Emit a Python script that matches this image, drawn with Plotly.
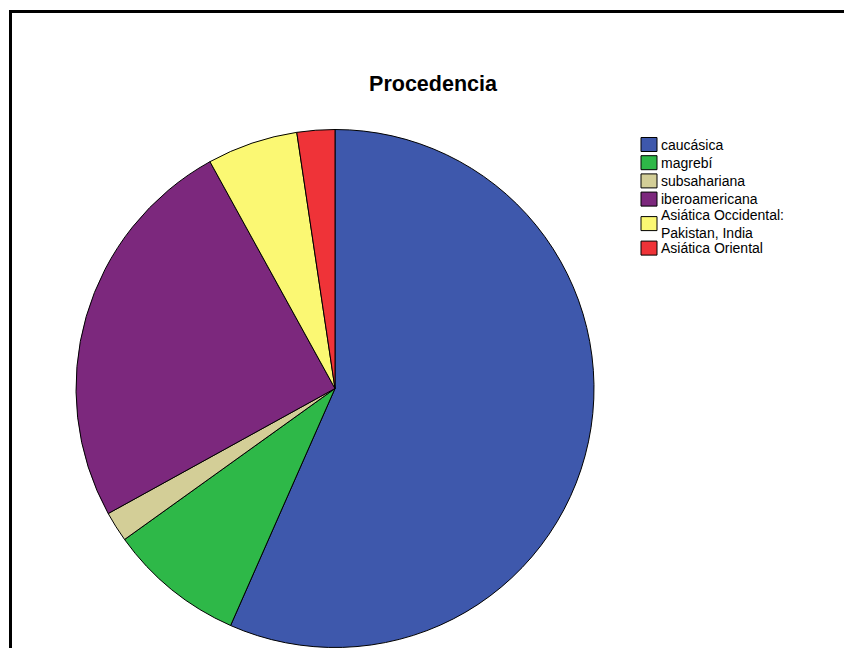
import plotly.graph_objects as go

# Procedencia de los casos (frecuencias)
categorias = [
    "caucásica",
    "magrebí",
    "subsahariana",
    "iberoamericana",
    "Asiática Occidental:<br>Pakistan, India",
    "Asiática Oriental",
]
frecuencias = [120, 18, 4, 53, 12, 5]
colores = ["#3E58AC", "#2EB848", "#D3CE97", "#7C287D", "#FBF873", "#EF3338"]

W, H = 844, 648
FONT = "Liberation Sans, Arial, sans-serif"

# pie geometry in pixels -> paper fractions
cx, cy, r = 335, 388.5, 259

fig = go.Figure(
    go.Pie(
        labels=categorias,
        values=frecuencias,
        sort=False,
        direction="clockwise",
        rotation=0,
        textinfo="none",
        marker=dict(colors=colores, line=dict(color="#000000", width=1)),
        domain=dict(
            x=[(cx - r) / W, (cx + r) / W],
            y=[1 - (cy + r) / H, 1 - (cy - r) / H],
        ),
        hoverinfo="label+value+percent",
        showlegend=False,
    )
)

# legend block: coloured box + label, laid out in pixels
box_x0, box_w, box_h = 641, 16, 14
text_x = 660
row_step = 18.2      # height of a one-line entry
line_step = 12.6     # extra height per additional text line
legend_font = 14

shapes = []
annotations = []
y = 144.5 - row_step / 2
for lab, col in zip(categorias, colores):
    n_lines = len(lab.split("<br>"))
    h = row_step + (n_lines - 1) * line_step
    yc = y + h / 2
    shapes.append(dict(
        type="rect", xref="paper", yref="paper",
        x0=box_x0 / W, x1=(box_x0 + box_w) / W,
        y0=1 - (yc + box_h / 2) / H, y1=1 - (yc - box_h / 2) / H,
        fillcolor=col, line=dict(color="#000000", width=1),
    ))
    annotations.append(dict(
        text=lab, xref="paper", yref="paper",
        x=text_x / W, y=1 - yc / H,
        xanchor="left", yanchor="middle", align="left", showarrow=False,
        borderpad=0,
        font=dict(size=legend_font, color="#000000", family=FONT),
    ))
    y += h

# chart frame
shapes.append(dict(
    type="rect", xref="paper", yref="paper",
    x0=10.5 / W, x1=1.05, y0=-0.05, y1=1 - 11.5 / H,
    line=dict(color="#000000", width=3),
    fillcolor="rgba(0,0,0,0)", layer="above",
))

fig.update_layout(
    width=W,
    height=H,
    margin=dict(l=0, r=0, t=0, b=0),
    paper_bgcolor="#FFFFFF",
    plot_bgcolor="#FFFFFF",
    font=dict(family=FONT, color="#000000"),
    title=dict(
        text="Procedencia",
        font=dict(size=21.5, weight=700, color="#000000", family=FONT),
        x=433 / W,
        xanchor="center",
        y=1 - 83 / H,
        yanchor="middle",
    ),
    showlegend=False,
    shapes=shapes,
    annotations=annotations,
)

fig.write_html("out.html")
